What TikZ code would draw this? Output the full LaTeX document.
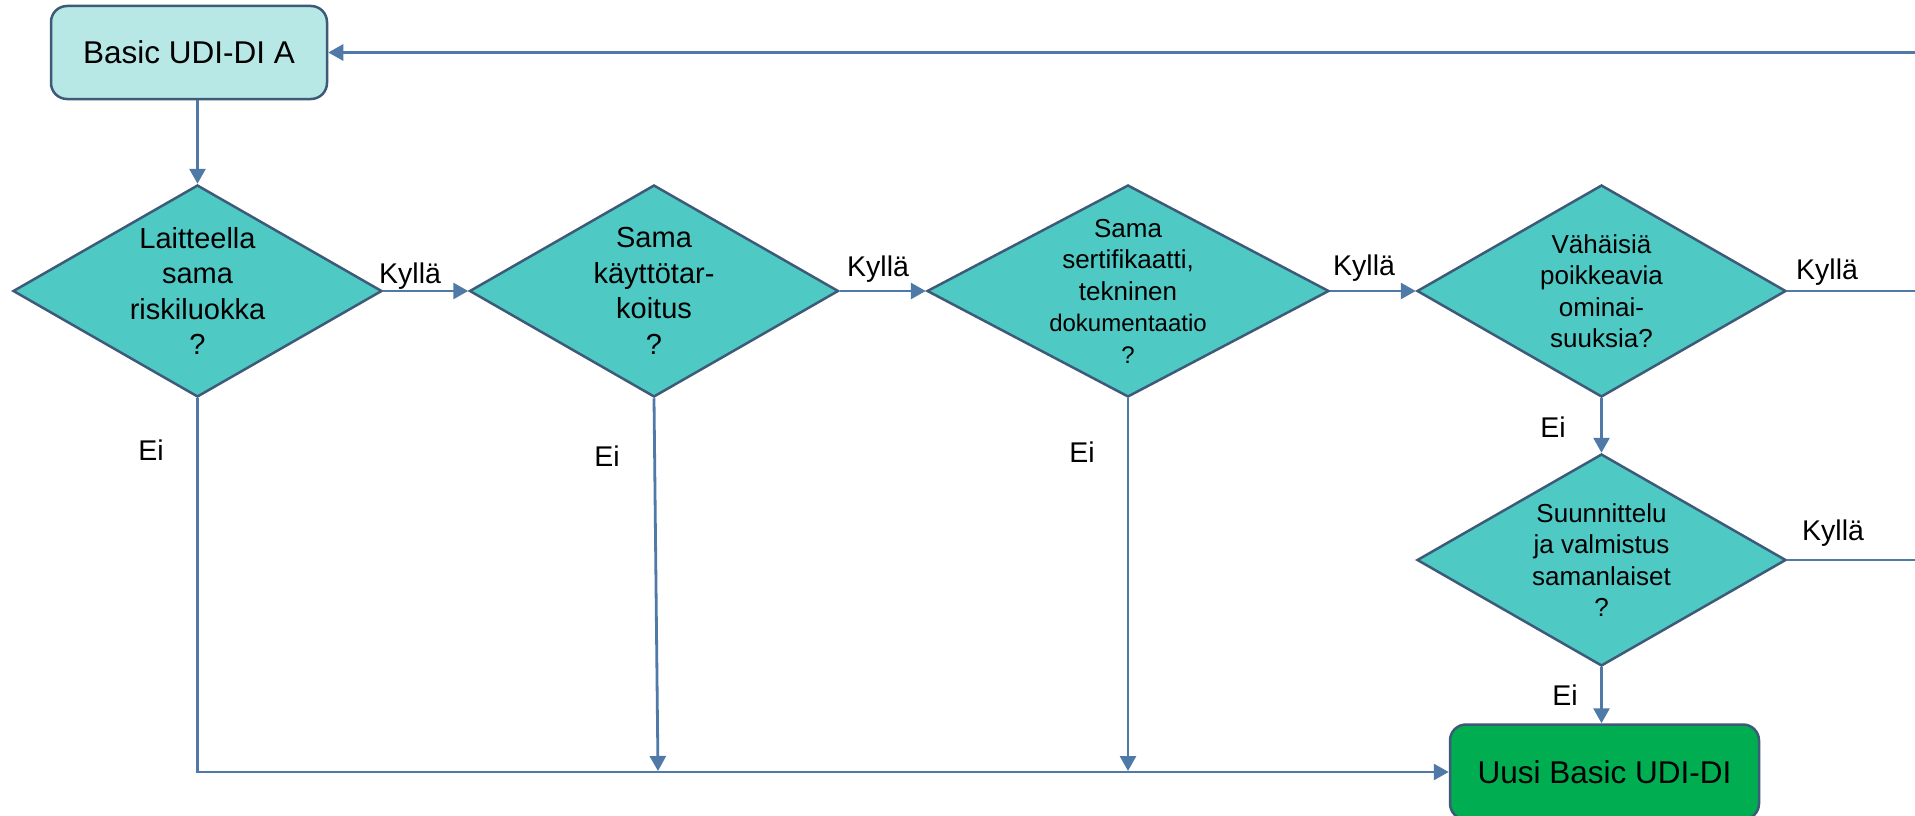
\documentclass[tikz,border=0pt]{standalone}
\usepackage{fontspec}
\setmainfont{Liberation Sans}
\usetikzlibrary{shapes.geometric}
\usetikzlibrary{arrows.meta}
\usetikzlibrary{calc}

\definecolor{linecol}{RGB}{79,121,166}
\definecolor{edgecol}{RGB}{61,90,120}
\definecolor{boxcyan}{RGB}{183,232,229}
\definecolor{diacyan}{RGB}{78,201,196}
\definecolor{boxgreen}{RGB}{0,174,81}

\begin{document}
\begin{tikzpicture}[x=1pt, y=-1pt,
 box/.style={draw=edgecol, line width=2.5pt, rounded corners=16pt, minimum width=276pt, minimum height=93pt, inner sep=0pt, font=\fontsize{31.5}{36}\selectfont},
 dia/.style={diamond, draw=edgecol, line width=2.5pt, fill=diacyan, minimum width=369pt, minimum height=212pt, inner sep=0pt},
 txt/.style={align=center, inner sep=0pt, font=\fontsize{26}{31.5}\selectfont},
 lbl/.style={inner sep=0pt, font=\fontsize{28.5}{32}\selectfont},
 con/.style={draw=linecol, line width=2.8pt},
 >={Triangle[length=15pt,width=16pt]}]
\useasboundingbox (0,0) rectangle (1915,816);
\clip (0,0) rectangle (1915,816);
\node[box, fill=boxcyan] (basic) at (189,52.5) {Basic UDI-DI A};
\node[box, fill=boxgreen, minimum width=309pt, minimum height=95pt] (uusi) at (1604.5,772) {Uusi Basic UDI-DI};
\node[dia] (d1) at (197.5,291) {};
\node[dia] (d2) at (654,291) {};
\node[dia, minimum width=402pt] (d3) at (1128,291) {};
\node[dia] (d4) at (1601.5,291) {};
\node[dia] (d5) at (1601.5,560) {};
\node[txt, font=\fontsize{29}{35.5}\selectfont] (t1) at (d1) {Laitteella\\sama\\riskiluokka\\?};
\node[txt, font=\fontsize{29}{35.5}\selectfont] (t2) at (d2) {Sama\\käyttötar-\\koitus\\?};
\node[txt] (t3) at (d3) {Sama\\sertifikaatti,\\tekninen\\{\fontsize{24}{31.5}\selectfont dokumentaatio}\\{\fontsize{24}{31.5}\selectfont ?}};
\node[txt] (t4) at (d4) {Vähäisiä\\poikkeavia\\ominai-\\suuksia?};
\node[txt] (t5) at (d5) {Suunnittelu\\ja valmistus\\samanlaiset\\?};
\foreach \n/\x/\y in {k1/379/283, k2/847/276, k3/1333/275, k4/1796/279, k5/1802/540}
 \node[lbl, anchor=base west] (\n) at (\x,\y) {Kyllä};
\foreach \n/\x/\y in {e1/151/460, e2/607/466, e3/1082/462, e4/1553/437, e5/1565/705}
 \node[lbl, anchor=base] (\n) at (\x,\y) {Ei};
\coordinate (j2) at (658,771);
\coordinate (j3) at (1128,771);
\coordinate (r0) at (1915,52.5);
\coordinate (r4) at (1915,291);
\coordinate (r5) at (1915,560);
\draw[con,->] (basic.south -| d1.north) -- (d1.north);
\foreach \a/\b in {d1/d2, d2/d3, d3/d4}
 \draw[con,->] (\a.east) -- (\b.west);
\draw[con,->] (d4.south) -- (d5.north);
\draw[con,->] (d5.south) -- (d5.south |- uusi.north);
\draw[con,->] (d1.south) |- (uusi.west);
\draw[con,->] (d2.south) -- (j2);
\draw[con,->] (d3.south) -- (j3);
\draw[con,->] (r0) -- (basic.east);
\draw[con] (d4.east) -- (r4);
\draw[con] (d5.east) -- (r5);
\end{tikzpicture}
\end{document}
